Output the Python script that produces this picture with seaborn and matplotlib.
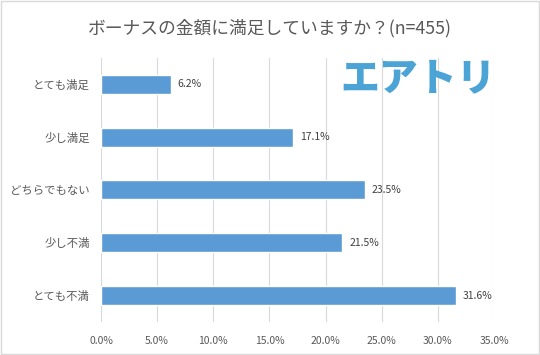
import pandas as pd
import matplotlib.pyplot as plt
import seaborn as sns

# Survey answers and shares (%)
answers = ['とても満足', '少し満足', 'どちらでもない', '少し不満', 'とても不満']
shares = [6.2, 17.1, 23.5, 21.5, 31.6]
x_ticks = [0, 5, 10, 15, 20, 25, 30, 35]

df = pd.DataFrame({'answer': answers, 'share': shares})

sns.set_theme(style="white")
plt.rcParams['font.family'] = ['Noto Sans CJK JP', 'DejaVu Sans']

fig = plt.figure(figsize=(5.4, 3.55), dpi=100)
ax = fig.add_axes([0.187, 0.093, 0.728, 0.744])

sns.barplot(data=df, x='share', y='answer', color='#5B9BD5', width=0.36,
            saturation=1, ax=ax)

ax.set_xlim(0, 35)
ax.set_ylim(4.5, -0.5)
ax.set_xticks(x_ticks)
ax.set_xticklabels([f'{t:.1f}%' for t in x_ticks], fontsize=7.5, color='#595959')
ax.tick_params(axis='y', labelsize=8.2, labelcolor='#595959', length=0, pad=8)
ax.tick_params(axis='x', length=0, pad=10)
ax.set_xlabel('')
ax.set_ylabel('')
ax.grid(axis='x', color='#D9D9D9', linewidth=0.8)
ax.set_axisbelow(True)
for s in ax.spines.values():
    s.set_visible(False)

# value labels
for i, v in enumerate(shares):
    ax.text(v + 0.6, i, f'{v:.1f}%', va='center', ha='left', fontsize=7.5,
            color='#404040')

fig.text(0.5, 0.92, 'ボーナスの金額に満足していますか？(n=455)', ha='center',
         va='center', fontsize=12.8, color='#595959')

# logo
fig.text(0.775, 0.78, 'エアトリ', ha='center', va='center', fontsize=28,
         fontweight='heavy', color='#4CA3D6')

# light frame around the figure
fig.patches.append(plt.Rectangle((0.002, 0.003), 0.996, 0.994, transform=fig.transFigure,
                                 fill=False, edgecolor='#D9D9D9', linewidth=1))

fig.savefig('out.png', dpi=100)
